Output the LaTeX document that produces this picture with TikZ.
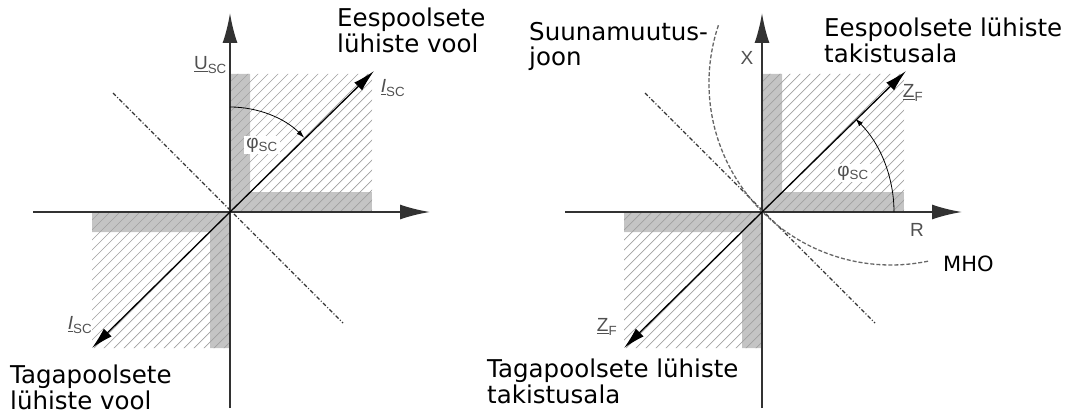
\documentclass[tikz,border=0pt]{standalone}
\usepackage{fontspec}
\setmainfont{DejaVu Sans}
\newfontfamily\lblfont{Liberation Sans}
\usetikzlibrary{arrows.meta}
\definecolor{bandgray}{RGB}{196,196,196}
\definecolor{hatchgray}{RGB}{160,160,160}
\definecolor{axisgray}{RGB}{50,50,50}
\definecolor{lblgray}{RGB}{80,80,80}

\begin{document}
\begin{tikzpicture}[x=1pt,y=1pt,
  axis/.style={line width=2pt,axisgray,-{Latex[length=30pt,width=15pt]}},
  vec/.style={line width=1.3pt,-{Latex[length=22pt,width=11pt]}},
  hatch/.style={hatchgray,line width=0.7pt},
  dashdot/.style={axisgray,line width=1.1pt,dash pattern=on 4pt off 2pt on 1pt off 2pt},
  mho/.style={black!60,line width=1.3pt,dash pattern=on 4pt off 2pt},
  anglemark/.style={line width=0.8pt,-{Latex[length=8pt,width=5pt]}},
  lbl/.style={lblgray,font=\lblfont\fontsize{19}{19}\selectfont,inner sep=1pt},
  txt/.style={font=\fontsize{24.5}{25.5}\selectfont,align=left,inner sep=0pt,anchor=north west}]
  \useasboundingbox (0,0) rectangle (1073,416);
  % both quadrant diagrams
  \foreach \p/\ox in {L/230,R/762}{
    \begin{scope}[shift={(\ox,204)}]
      \coordinate (O\p) at (0,0);
      \begin{scope}
        \clip (0,0) rectangle (142,138) (-138,-136) rectangle (0,0);
        \fill[bandgray] (0,0) rectangle (20,138) (20,0) rectangle (142,20);
        \fill[bandgray] (-20,-136) rectangle (0,0) (-138,-20) rectangle (-20,0);
        \foreach \k in {-15,...,15}
          \draw[hatch] (\k*10-150,-150) -- ++(300,300);
      \end{scope}
      \draw[axis] (-197,0) -- (200,0);
      \draw[axis] (0,-196) -- (0,199);
      \draw[dashdot] (-117,119) -- (113,-111);
      \coordinate (F\p) at (144,141);
      \coordinate (B\p) at (-138,-136);
    \end{scope}
  }
  % left: short circuit current
  \draw[vec] (OL) -- (FL);
  \draw[vec] (OL) -- (BL);
  \draw[anglemark] ([shift={(90:105)}]OL) arc[start angle=90,end angle=45,radius=105];
  \node[lbl,anchor=east] (usc) at ([shift={(-2,147)}]OL) {\underline{U}\textsubscript{SC}};
  \node[lbl] (iscF) at ([shift={(163,124)}]OL) {\textit{\underline{I}}\textsubscript{SC}};
  \node[lbl] (iscB) at ([shift={(-150,-113)}]OL) {\textit{\underline{I}}\textsubscript{SC}};
  \node[lbl,fill=white,inner sep=2pt] (phiL) at ([shift={(32,67)}]OL) {φ\textsubscript{SC}};
  \node[txt] (fwdCur) at (337,408) {Eespoolsete\\lühiste vool};
  \node[txt] (bwdCur) at (10,51) {Tagapoolsete\\lühiste vool};
  % right: impedance plane
  \coordinate (mhoC) at ([shift={(129,129)}]OR);
  \draw[mho] ([shift={(161.5:182)}]mhoC) arc[start angle=161.5,end angle=282.3,radius=182];
  \draw[vec] (OR) -- (FR);
  \draw[vec] (OR) -- (BR);
  \draw[anglemark] ([shift={(0:132)}]OR) arc[start angle=0,end angle=45,radius=132];
  \node[lbl] (xlbl) at ([shift={(-15,154)}]OR) {X};
  \node[lbl] (rlbl) at ([shift={(155,-18)}]OR) {R};
  \node[lbl] (zF) at ([shift={(151,119)}]OR) {\underline{Z}\textsubscript{F}};
  \node[lbl] (zB) at ([shift={(-155,-115)}]OR) {\underline{Z}\textsubscript{F}};
  \node[lbl,fill=white,inner sep=2pt] (phiR) at ([shift={(91,39)}]OR) {φ\textsubscript{SC}};
  \node[txt] (dirLine) at (529,394) {Suunamuutus-\\joon};
  \node[txt] (fwdZone) at (824,398) {Eespoolsete lühiste\\takistusala};
  \node[txt] (bwdZone) at (487,57) {Tagapoolsete lühiste\\takistusala};
  \node[font=\fontsize{21}{21}\selectfont,anchor=west,inner sep=0pt] (mhoLbl) at (943,152) {MHO};
\end{tikzpicture}
\end{document}
